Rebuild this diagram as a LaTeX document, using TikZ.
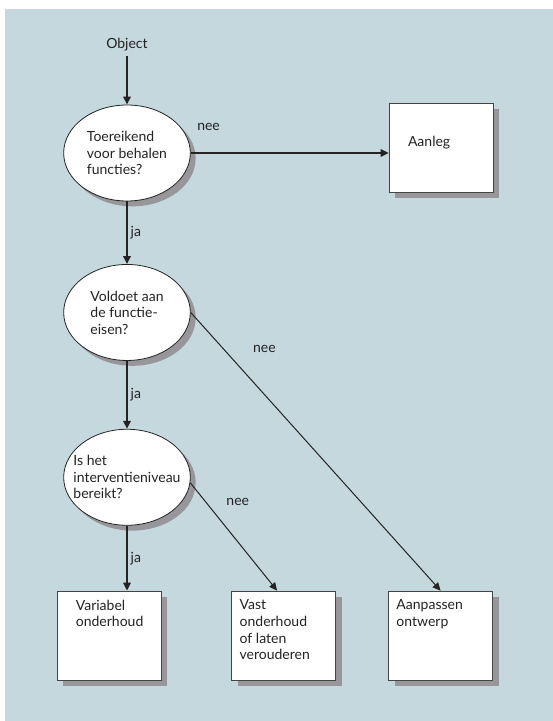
\documentclass[tikz,border=0pt]{standalone}
\usepackage{fontspec}
\setmainfont{Lato}
\usepackage{xcolor}
\usetikzlibrary{shapes.geometric, arrows.meta, positioning, shadows}

\definecolor{bgblue}{RGB}{196,216,221}
\definecolor{shade}{RGB}{150,150,155}
\definecolor{ink}{RGB}{35,35,35}

\begin{document}
\begin{tikzpicture}[
    x=0.75pt, y=-0.75pt,
    font=\fontsize{10.5}{12.4}\selectfont,
    question/.style={ellipse, draw=ink, fill=white, line width=0.6pt,
                     minimum width=95pt, minimum height=72pt,
                     inner sep=-9pt, align=left, text=ink,
                     drop shadow={shadow xshift=4pt, shadow yshift=-4pt,
                                  fill=shade, opacity=1}},
    result/.style={rectangle, draw=ink!85, fill=white, line width=0.6pt,
                   minimum width=78pt, minimum height=66.75pt,
                   drop shadow={shadow xshift=4.5pt, shadow yshift=-4.5pt,
                                fill=shade, opacity=1}},
    boxtext/.style={anchor=north west, align=left, inner sep=0pt, text=ink},
    lbl/.style={inner sep=0pt, text=ink},
    arr/.style={-{Triangle[length=6pt, width=5.5pt]}, line width=1.6pt, ink},
    thinarr/.style={arr, line width=0.75pt},
]
\useasboundingbox (0,0) rectangle (553,721);
\fill[bgblue] (5,9) rectangle (553,721);

% questions
\node[question] (q1) at (127,153) {Toereikend\\voor behalen\\functies?};
\node[question, below=47pt of q1] (q2) {Voldoet aan\\de functie-\\eisen?};
\node[question, below=51pt of q2] (q3) {Is het\\interventieniveau\\bereikt?};

% outcomes
\node[result, below=48.75pt of q3, xshift=-13.5pt,
      label={[boxtext, xshift=14.25pt, yshift=-6.75pt]north west:Variabel\\onderhoud}] (r1) {};
\node[result, right=52.5pt of r1,
      label={[boxtext, xshift=6pt, yshift=-6.75pt]north west:Vast\\onderhoud\\of laten\\verouderen}] (r2) {};
\node[result, right=39pt of r2,
      label={[boxtext, xshift=6pt, yshift=-6.75pt]north west:Aanpassen\\ontwerp}] (r3) {};
\node[result, right=148.5pt of q1, yshift=4pt,
      label={[boxtext, xshift=14.25pt, yshift=-24.75pt]north west:Aanleg}] (r4) {};

\node[lbl, inner sep=3pt] (obj) at (127,45) {Object};

\draw[arr] (obj) -- (q1);
\draw[arr] (q1.east) -- node[lbl, pos=0.09, above=16pt]{nee} (q1.east -| r4.west);
\draw[arr] (q1) -- node[lbl, right=2pt]{ja} (q2);
\draw[arr] (q2) -- node[lbl, right=2pt]{ja} (q3);
\draw[arr] (q3.south) -- node[lbl, right=2pt]{ja} (q3.south |- r1.north);
\draw[thinarr] (q2.east) -- node[lbl, pos=0.13, right=22pt]{nee} (r3.north);
\draw[thinarr] (q3.-5) -- node[lbl, pos=0.18, right=15pt]{nee} ([xshift=-5pt]r2.north);
\end{tikzpicture}
\end{document}
